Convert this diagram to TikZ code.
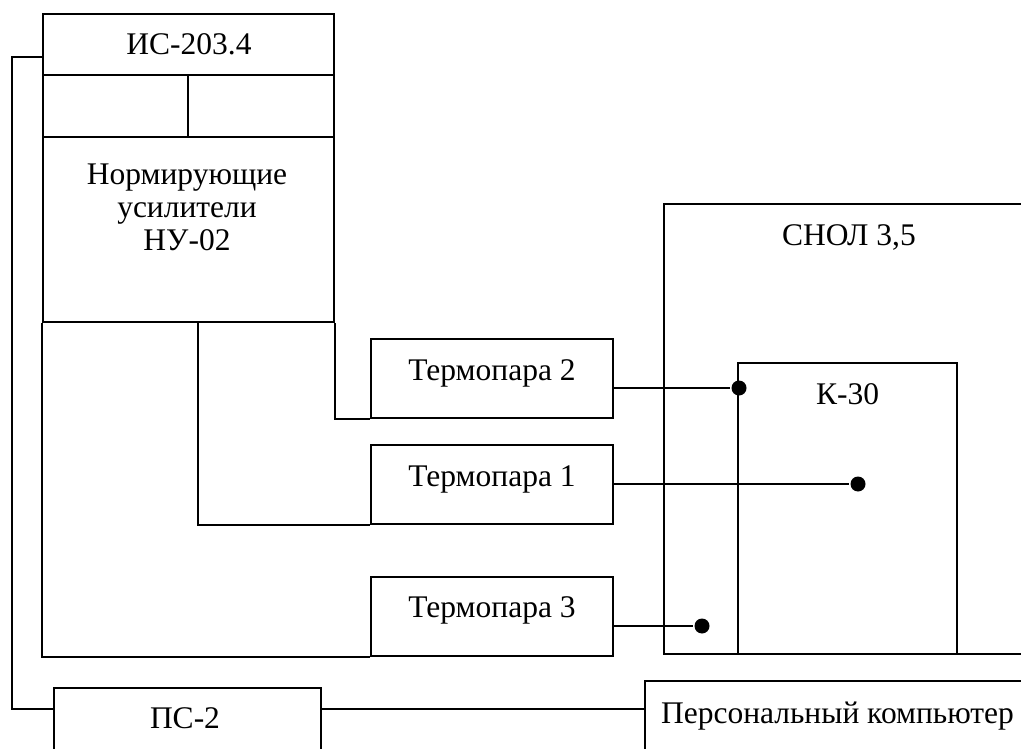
\documentclass[tikz,border=0pt]{standalone}
\usepackage{fontspec}
\setmainfont{Liberation Serif}
\usepackage{tikz}

\begin{document}
\begin{tikzpicture}[x=1pt, y=-1pt, line width=2.2pt,
        font=\fontsize{31.5}{33}\selectfont,
        box/.style = {draw, rectangle, inner sep=0pt},
        lbl/.style = {inner sep=0pt, anchor=base},
        dot/.style = {circle, fill, inner sep=0pt, minimum size=15pt}]
        \clip (0,0) rectangle (1021,749);

        \node[box, minimum width=291pt, minimum height=61pt] (is) at (188.5,44.5) {};
        \node[box, minimum width=145pt, minimum height=62pt] (c1) at (115.5,106) {};
        \node[box, minimum width=146pt, minimum height=62pt] (c2) at (261,106) {};
        \node[box, minimum width=291pt, minimum height=185pt] (nu) at (188.5,229.5) {};

        \node[box, minimum width=242pt, minimum height=79pt] (tp2) at (492,378.5) {};
        \node[box, minimum width=242pt, minimum height=79pt] (tp1) at (492,484.5) {};
        \node[box, minimum width=242pt, minimum height=79pt] (tp3) at (492,616.5) {};

        \node[box, minimum width=400pt, minimum height=450pt] (snol) at (864,429) {};
        \node[box, minimum width=219pt, minimum height=291pt] (k30) at (847.5,508.5) {};

        \node[box, minimum width=267pt, minimum height=100pt] (ps) at (187.5,738) {};
        \node[box, minimum width=420pt, minimum height=100pt] (pc) at (855,731) {};

        \node[lbl] (isl) at (189,55) {ИС-203.4};
        \node[lbl, anchor=center, align=center] (nul) at (187,207.5) {Нормирующие\\усилители\\НУ-02};
        \node[lbl] (tp2l) at (492,380) {Термопара 2};
        \node[lbl] (tp1l) at (492,486) {Термопара 1};
        \node[lbl] (tp3l) at (492,617) {Термопара 3};
        \node[lbl] (snoll) at (849,245) {СНОЛ 3,5};
        \node[lbl] (k30l) at (847.5,404) {К-30};
        \node[lbl] (psl) at (185,728) {ПС-2};
        \node[lbl, anchor=base west] (pcl) at (660,723) {Персональный компьютер};

        \node[dot] (d2) at (739,388) {};
        \node[dot] (d1) at (858,484) {};
        \node[dot] (d3) at (702,626) {};
        \coordinate (j1) at (12,57);

        \draw (tp2.east |- d2) -- (d2);
        \draw (tp1.east |- d1) -- (d1);
        \draw (tp3.east |- d3) -- (d3);

        \draw (nu.south east) |- (tp2.south west);
        \draw ([xshift=156pt]nu.south west) |- (tp1.south west);
        \draw (nu.south west) |- (tp3.south west);

        \draw ([yshift=-12.5pt]is.west) -- (j1) |- ([yshift=-22pt]ps.north west);
        \draw ([yshift=-22pt]ps.north east) -- ([yshift=-29pt]pc.north west);
\end{tikzpicture}
\end{document}
